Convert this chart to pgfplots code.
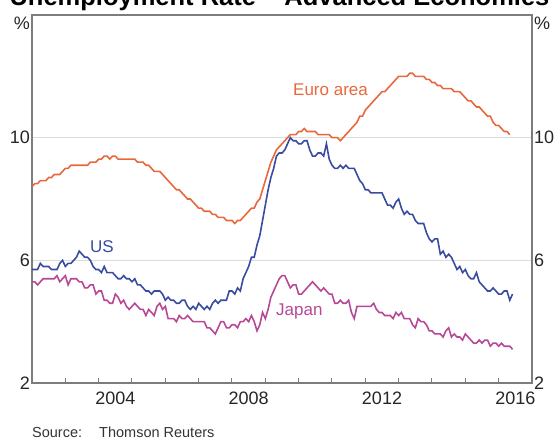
\documentclass[border=0pt]{standalone}
\usepackage{fontspec}
\setmainfont{Liberation Sans}
\usepackage{pgfplots}
\usepackage{pgfplotstable}
\pgfplotsset{compat=1.18}

\definecolor{euro}{RGB}{232,104,62}
\definecolor{usblue}{RGB}{58,76,160}
\definecolor{japan}{RGB}{184,72,150}
\definecolor{axgray}{RGB}{125,125,125}
\definecolor{gridgray}{RGB}{220,220,220}

% Euro area, monthly from Jan 2002
\pgfplotstableread[header=false,row sep=\\]{
8.4\\8.5\\8.5\\8.6\\8.6\\8.6\\8.7\\8.7\\8.8\\8.8\\8.8\\8.9\\
9.0\\9.0\\9.1\\9.1\\9.1\\9.1\\9.1\\9.1\\9.1\\9.2\\9.2\\9.2\\
9.3\\9.3\\9.4\\9.4\\9.3\\9.4\\9.4\\9.3\\9.3\\9.3\\9.3\\9.3\\
9.3\\9.3\\9.2\\9.2\\9.2\\9.1\\9.1\\9.0\\8.9\\8.9\\8.9\\8.8\\
8.7\\8.6\\8.5\\8.4\\8.3\\8.3\\8.2\\8.1\\8.0\\8.0\\7.9\\7.8\\
7.7\\7.7\\7.6\\7.6\\7.6\\7.5\\7.5\\7.4\\7.4\\7.4\\7.3\\7.3\\
7.3\\7.2\\7.3\\7.3\\7.4\\7.5\\7.6\\7.7\\7.7\\7.9\\8.0\\8.3\\
8.6\\8.9\\9.2\\9.4\\9.6\\9.7\\9.8\\9.9\\10.0\\10.1\\10.1\\10.1\\
10.2\\10.2\\10.3\\10.2\\10.2\\10.2\\10.2\\10.1\\10.1\\10.1\\10.1\\10.1\\
10.0\\10.0\\10.0\\9.9\\10.0\\10.1\\10.2\\10.3\\10.4\\10.5\\10.7\\10.7\\
10.9\\11.0\\11.1\\11.2\\11.3\\11.4\\11.5\\11.5\\11.6\\11.7\\11.8\\11.9\\
12.0\\12.0\\12.0\\12.0\\12.1\\12.1\\12.0\\12.0\\12.0\\12.0\\11.9\\11.9\\
11.8\\11.8\\11.7\\11.7\\11.6\\11.6\\11.6\\11.6\\11.5\\11.5\\11.5\\11.4\\
11.3\\11.2\\11.2\\11.1\\11.0\\11.0\\10.9\\10.8\\10.7\\10.7\\10.5\\10.4\\
10.4\\10.3\\10.2\\10.2\\10.1\\
}\tabEA

% US, monthly from Jan 2002
\pgfplotstableread[header=false,row sep=\\]{
5.7\\5.7\\5.7\\5.9\\5.8\\5.8\\5.8\\5.7\\5.7\\5.7\\5.9\\6.0\\
5.8\\5.9\\5.9\\6.0\\6.1\\6.3\\6.2\\6.1\\6.1\\6.0\\5.8\\5.7\\
5.7\\5.6\\5.8\\5.6\\5.6\\5.6\\5.5\\5.4\\5.4\\5.5\\5.4\\5.4\\
5.3\\5.4\\5.2\\5.2\\5.1\\5.0\\5.0\\4.9\\5.0\\5.0\\5.0\\4.9\\
4.7\\4.8\\4.7\\4.7\\4.6\\4.6\\4.7\\4.7\\4.5\\4.4\\4.5\\4.4\\
4.6\\4.5\\4.4\\4.5\\4.4\\4.6\\4.7\\4.6\\4.7\\4.7\\4.7\\5.0\\
5.0\\4.9\\5.1\\5.0\\5.4\\5.6\\5.8\\6.1\\6.1\\6.5\\6.8\\7.3\\
7.8\\8.3\\8.7\\9.0\\9.4\\9.5\\9.5\\9.6\\9.8\\10.0\\9.9\\9.9\\
9.8\\9.8\\9.9\\9.9\\9.6\\9.4\\9.4\\9.5\\9.5\\9.4\\9.8\\9.3\\
9.1\\9.0\\9.0\\9.1\\9.0\\9.1\\9.0\\9.0\\9.0\\8.8\\8.6\\8.5\\
8.3\\8.3\\8.2\\8.2\\8.2\\8.2\\8.2\\8.0\\7.8\\7.8\\7.7\\7.9\\
8.0\\7.7\\7.5\\7.6\\7.5\\7.5\\7.3\\7.2\\7.2\\7.2\\6.9\\6.7\\
6.6\\6.7\\6.7\\6.2\\6.3\\6.1\\6.2\\6.1\\5.9\\5.7\\5.8\\5.6\\
5.7\\5.5\\5.4\\5.4\\5.6\\5.3\\5.2\\5.1\\5.0\\5.0\\5.1\\5.0\\
4.9\\4.9\\5.0\\5.0\\4.7\\4.9\\
}\tabUS

% Japan, monthly from Jan 2002
\pgfplotstableread[header=false,row sep=\\]{
5.3\\5.3\\5.2\\5.3\\5.4\\5.4\\5.4\\5.4\\5.4\\5.5\\5.3\\5.4\\
5.5\\5.2\\5.4\\5.4\\5.4\\5.3\\5.3\\5.1\\5.1\\5.2\\5.2\\4.9\\
5.0\\5.0\\4.7\\4.7\\4.6\\4.6\\4.9\\4.8\\4.6\\4.7\\4.5\\4.4\\
4.5\\4.6\\4.5\\4.4\\4.4\\4.2\\4.4\\4.3\\4.2\\4.5\\4.6\\4.4\\
4.5\\4.1\\4.1\\4.1\\4.0\\4.2\\4.1\\4.1\\4.2\\4.1\\4.0\\4.0\\
4.0\\4.0\\4.0\\3.8\\3.8\\3.7\\3.6\\3.8\\4.0\\4.0\\3.8\\3.8\\
3.9\\3.9\\3.8\\4.0\\4.0\\4.1\\4.0\\4.2\\4.0\\3.7\\3.9\\4.3\\
4.1\\4.4\\4.8\\5.0\\5.2\\5.4\\5.5\\5.5\\5.3\\5.1\\5.2\\5.2\\
4.9\\4.9\\5.0\\5.1\\5.2\\5.3\\5.2\\5.1\\5.0\\5.1\\5.0\\4.9\\
4.9\\4.6\\4.6\\4.7\\4.6\\4.6\\4.7\\4.3\\4.1\\4.5\\4.5\\4.5\\
4.5\\4.5\\4.5\\4.6\\4.4\\4.3\\4.3\\4.2\\4.2\\4.2\\4.1\\4.3\\
4.2\\4.3\\4.1\\4.1\\4.1\\3.9\\3.8\\4.1\\4.0\\4.0\\3.9\\3.7\\
3.7\\3.6\\3.6\\3.6\\3.5\\3.7\\3.8\\3.5\\3.6\\3.5\\3.5\\3.4\\
3.6\\3.5\\3.4\\3.3\\3.3\\3.4\\3.3\\3.4\\3.4\\3.2\\3.3\\3.3\\
3.2\\3.3\\3.2\\3.2\\3.2\\3.1\\
}\tabJP

\begin{document}
\begin{tikzpicture}
\begin{axis}[
  name=ax,
  at={(0,0)}, anchor=south west,
  scale only axis, width=500pt, height=368pt,
  xmin=2002, xmax=2017, ymin=2, ymax=14,
  axis line style={axgray, line width=1.4pt},
  xtick={2004.5,2008.5,2012.5,2016.5},
  xticklabels={2004,2008,2012,2016},
  minor xtick={2003,...,2016},
  xtick pos=bottom, ytick pos=left,
  major tick length=0pt, minor tick length=5.5pt,
  tick align=inside,
  minor tick style={axgray, line width=1pt},
  ytick={2,6,10},
  ymajorgrids,
  major grid style={gridgray, line width=1.2pt},
  /pgf/number format/assume math mode=true,
  ticklabel style={font=\fontsize{18}{20}\selectfont, text=black!85},
  yticklabel style={inner sep=2pt},
  xticklabel style={yshift=-5pt},
]
\addplot[euro, line width=1.6pt] table[x expr=2002+\coordindex/12, y index=0] {\tabEA};
\addplot[usblue, line width=1.6pt] table[x expr=2002+\coordindex/12, y index=0] {\tabUS};
\addplot[japan, line width=1.6pt] table[x expr=2002+\coordindex/12, y index=0] {\tabJP};
\node[anchor=base west, inner sep=0, text=euro, font=\fontsize{17}{19}\selectfont] at (axis cs:2009.83,11.39) {Euro area};
\node[anchor=base west, inner sep=0, text=usblue, font=\fontsize{17}{19}\selectfont] at (axis cs:2003.74,6.24) {US};
\node[anchor=base west, inner sep=0, text=japan, font=\fontsize{17}{19}\selectfont] at (axis cs:2009.32,4.2) {Japan};
\end{axis}
\begin{axis}[
  at={(0,0)}, anchor=south west,
  scale only axis, width=500pt, height=368pt,
  xmin=2002, xmax=2017, ymin=2, ymax=14,
  axis x line=none, axis y line*=right,
  axis line style={draw=none},
  ytick={2,6,10}, major tick length=0pt,
  /pgf/number format/assume math mode=true,
  ticklabel style={font=\fontsize{18}{20}\selectfont, text=black!85},
  yticklabel style={inner sep=2pt},
]
\end{axis}
\node[anchor=north east, inner sep=0, font=\fontsize{18}{20}\selectfont, text=black!85] at ([xshift=-2pt,yshift=-2pt]ax.north west) {\%};
\node[anchor=north west, inner sep=0, font=\fontsize{18}{20}\selectfont, text=black!85] at ([xshift=2pt,yshift=-2pt]ax.north east) {\%};
\node[anchor=base, inner sep=0, font=\fontsize{25.5}{30}\selectfont\bfseries] at ([xshift=-2.5pt,yshift=9pt]ax.north) {Unemployment Rate – Advanced Economies};
\node[anchor=base west, inner sep=0, font=\fontsize{14.5}{16}\selectfont, text=black!80] at ([yshift=-54pt]ax.south west) {Source:};
\node[anchor=base west, inner sep=0, font=\fontsize{14.5}{16}\selectfont, text=black!80] at ([xshift=67pt,yshift=-54pt]ax.south west) {Thomson Reuters};
\pgfresetboundingbox
\path[use as bounding box] ([xshift=-32pt,yshift=-56pt]ax.south west) rectangle ([xshift=24pt,yshift=15pt]ax.north east);
\end{tikzpicture}
\end{document}
